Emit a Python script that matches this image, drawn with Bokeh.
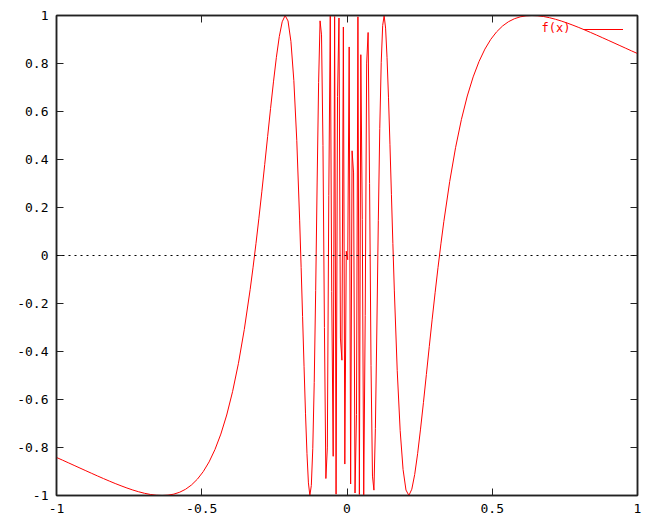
from bokeh.plotting import figure
from bokeh.models import (Range1d, FixedTicker, LinearAxis, Span, Legend, LegendItem, Label)
from bokeh.embed import file_html
from bokeh.resources import INLINE

x_vals = [
    -1.0, -0.9798, -0.9596, -0.9394, -0.9192, -0.8990, -0.8788, -0.8586, -0.8384, -0.8182,
    -0.7980, -0.7778, -0.7576, -0.7374, -0.7172, -0.6970, -0.6768, -0.6566, -0.6364, -0.6162,
    -0.5960, -0.5758, -0.5556, -0.5354, -0.5152, -0.4949, -0.4747, -0.4545, -0.4343, -0.4141,
    -0.3939, -0.3737, -0.3535, -0.3333, -0.3233, -0.3133, -0.3033, -0.2932, -0.2832, -0.2732,
    -0.2632, -0.2531, -0.2431, -0.2331, -0.2231, -0.2130, -0.2030, -0.1930, -0.1830, -0.1729,
    -0.1629, -0.1579, -0.1529, -0.1479, -0.1429, -0.1378, -0.1328, -0.1278, -0.1228, -0.1178,
    -0.1128, -0.1078, -0.1028, -0.0977, -0.0927, -0.0877, -0.0827, -0.0777, -0.0727, -0.0677,
    -0.0627, -0.0576, -0.0526, -0.0476, -0.0426, -0.0376, -0.0326, -0.0276, -0.0226, -0.0175,
    -0.0125, -0.0075, -0.0025,
    0.0025, 0.0075, 0.0125, 0.0175, 0.0226, 0.0276, 0.0326, 0.0376, 0.0426, 0.0476,
    0.0526, 0.0576, 0.0627, 0.0677, 0.0727, 0.0777, 0.0827, 0.0877, 0.0927, 0.0977,
    0.1028, 0.1078, 0.1128, 0.1178, 0.1228, 0.1278, 0.1328, 0.1378, 0.1429, 0.1479,
    0.1529, 0.1579, 0.1629, 0.1729, 0.1830, 0.1930, 0.2030, 0.2130, 0.2231, 0.2331,
    0.2431, 0.2531, 0.2632, 0.2732, 0.2832, 0.2932, 0.3033, 0.3133, 0.3233, 0.3333,
    0.3535, 0.3737, 0.3939, 0.4141, 0.4343, 0.4545, 0.4747, 0.4949, 0.5152, 0.5354,
    0.5556, 0.5758, 0.5960, 0.6162, 0.6364, 0.6566, 0.6768, 0.6970, 0.7172, 0.7374,
    0.7576, 0.7778, 0.7980, 0.8182, 0.8384, 0.8586, 0.8788, 0.8990, 0.9192, 0.9394,
    0.9596, 0.9798, 1.0,
]
y_vals = [
    -0.8415, -0.8524, -0.8635, -0.8746, -0.8857, -0.8968, -0.9078, -0.9187, -0.9294, -0.9399,
    -0.9500, -0.9596, -0.9687, -0.9771, -0.9845, -0.9908, -0.9957, -0.9989, -1.0, -0.9986,
    -0.9943, -0.9863, -0.9739, -0.9562, -0.9322, -0.9006, -0.8600, -0.8085, -0.7442, -0.6646,
    -0.5672, -0.4492, -0.3079, -0.1411, -0.0486, 0.0504, 0.1553, 0.2654, 0.3796, 0.4960,
    0.6119, 0.7235, 0.8259, 0.9122, 0.9738, 0.9998, 0.9773, 0.8918, 0.7294, 0.4799,
    0.1442, -0.0501, -0.2550, -0.4614, -0.6570, -0.8257, -0.9474, -0.9995, -0.9586, -0.8048,
    -0.5296, -0.1452, 0.3021, 0.7215, 0.9777, 0.9193, 0.4577, -0.2999, -0.9292, -0.8017,
    0.2494, 0.9976, -0.1499, -0.8367, 0.9958, -0.9946, 0.6621, 0.9896, -0.3439, -0.4362,
    0.9521, -0.8690, 0.0177,
    -0.0177, 0.8690, -0.9521, 0.4362, 0.3439, -0.9896, -0.6621, 0.9946, -0.9958, 0.8367,
    0.1499, -0.9976, -0.2494, 0.8017, 0.9292, 0.2999, -0.4577, -0.9193, -0.9777, -0.7215,
    -0.3021, 0.1452, 0.5296, 0.8048, 0.9586, 0.9995, 0.9474, 0.8257, 0.6570, 0.4614,
    0.2550, 0.0501, -0.1442, -0.4799, -0.7294, -0.8918, -0.9773, -0.9998, -0.9738, -0.9122,
    -0.8259, -0.7235, -0.6119, -0.4960, -0.3796, -0.2654, -0.1553, -0.0504, 0.0486, 0.1411,
    0.3079, 0.4492, 0.5672, 0.6646, 0.7442, 0.8085, 0.8600, 0.9006, 0.9322, 0.9562,
    0.9739, 0.9863, 0.9943, 0.9986, 1.0, 0.9989, 0.9957, 0.9908, 0.9845, 0.9771,
    0.9687, 0.9596, 0.9500, 0.9399, 0.9294, 0.9187, 0.9078, 0.8968, 0.8857, 0.8746,
    0.8635, 0.8524, 0.8415,
]

x_ticks = [-1, -0.5, 0, 0.5, 1]
x_tick_labels = ["-1", "-0.5", "0", "0.5", "1"]
y_ticks = [-1, -0.8, -0.6, -0.4, -0.2, 0, 0.2, 0.4, 0.6, 0.8, 1]
y_tick_labels = ["-1", "-0.8", "-0.6", "-0.4", "-0.2", "0", "0.2", "0.4", "0.6", "0.8", "1"]
series_name = "f(x)"

FONT = "DejaVu Sans Mono"
RED = "#ff0000"

p = figure(width=652, height=520, output_backend="svg", toolbar_location=None,
           x_range=Range1d(-1, 1), y_range=Range1d(-1, 1),
           min_border_left=56, min_border_right=15, min_border_top=15, min_border_bottom=25)
p.grid.visible = False
p.background_fill_color = "white"
p.border_fill_color = "white"
p.outline_line_color = "#222222"
p.outline_line_width = 1.5

def style_axis(ax, ticks, labels, show_labels):
    ax.ticker = FixedTicker(ticks=ticks)
    ax.major_tick_in = 7
    ax.major_tick_out = 0
    ax.minor_tick_in = 0
    ax.minor_tick_out = 0
    ax.axis_line_color = "#222222"
    ax.axis_line_width = 1.5
    ax.major_tick_line_color = "#222222"
    ax.major_label_text_font = FONT
    ax.major_label_text_color = "black"
    ax.major_label_text_font_size = "13px"
    if show_labels:
        ax.major_label_overrides = {t: l for t, l in zip(ticks, labels)}
        ax.major_label_standoff = 8
    else:
        ax.major_label_overrides = {t: "" for t in ticks}
        ax.major_label_standoff = 0

style_axis(p.xaxis[0], x_ticks, x_tick_labels, True)
style_axis(p.yaxis[0], y_ticks, y_tick_labels, True)

top_ax = LinearAxis()
right_ax = LinearAxis()
style_axis(top_ax, x_ticks, x_tick_labels, False)
style_axis(right_ax, y_ticks, y_tick_labels, False)
p.add_layout(top_ax, "above")
p.add_layout(right_ax, "right")

zero = Span(location=0, dimension="width", line_color="black", line_width=1, line_dash="2 4")
p.add_layout(zero)

r = p.line(x_vals, y_vals, line_color=RED, line_width=1)

legend = Legend(items=[LegendItem(label=" ", renderers=[r])], location=(527, 458),
                padding=0, margin=0, spacing=0, glyph_width=40, glyph_height=16,
                label_standoff=0, label_text_font_size="1px",
                background_fill_alpha=0, border_line_alpha=0)
p.add_layout(legend, "center")

p.add_layout(Label(x=0.6695, y=0.946, text=series_name, text_font=FONT, text_font_size="12px",
                   text_color=RED, text_baseline="middle", text_align="left"))

open("out.html", "w").write(file_html(p, INLINE))
